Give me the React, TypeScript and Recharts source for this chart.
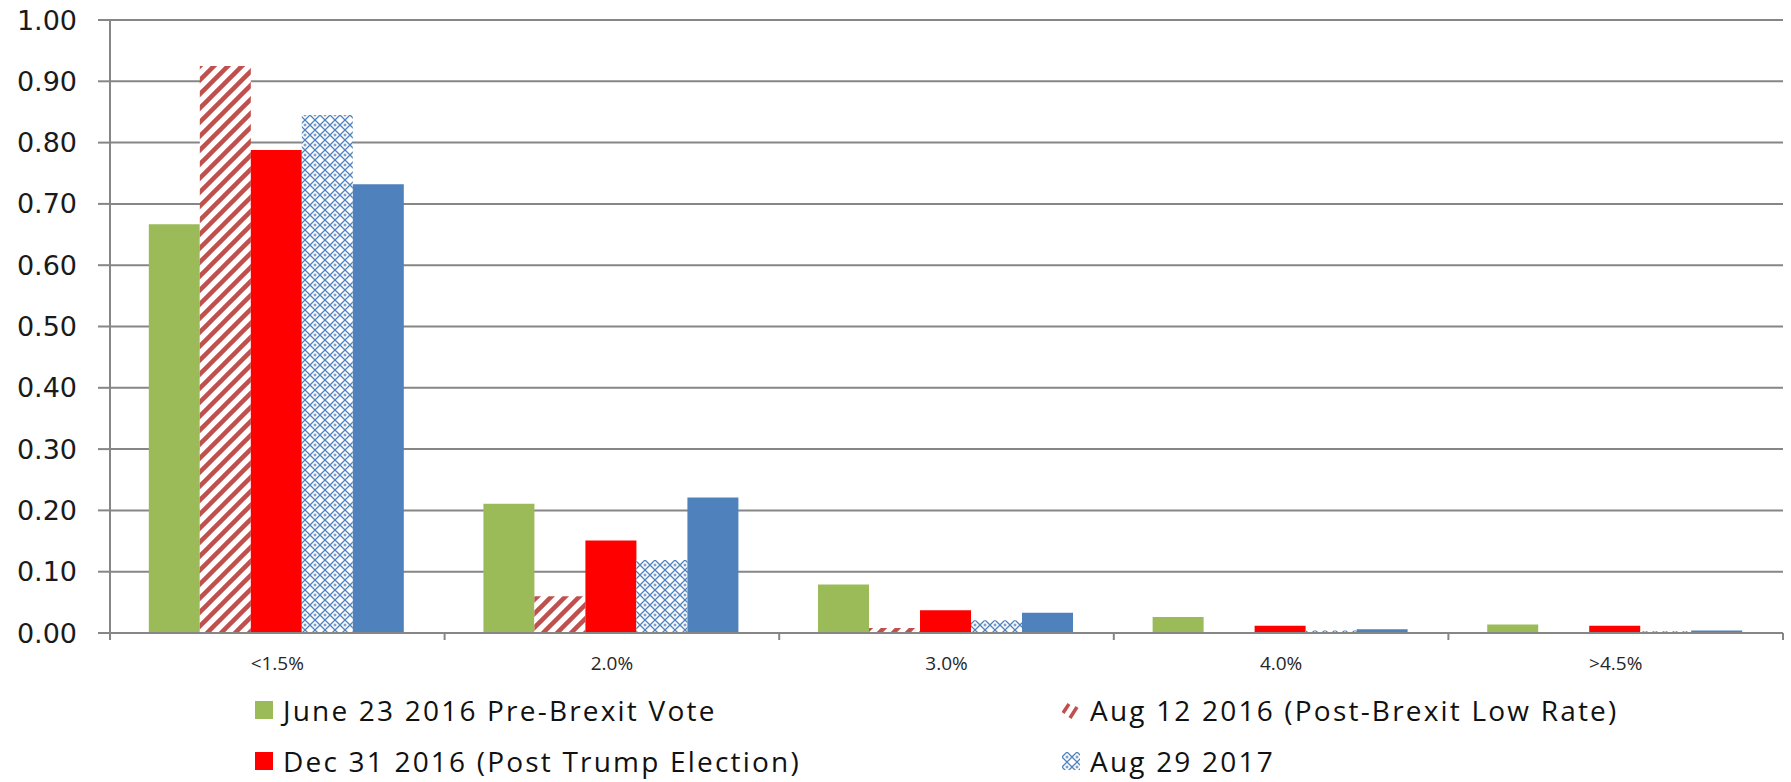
import { BarChart, Bar, XAxis, YAxis, CartesianGrid } from 'recharts'

const CATEGORIES = ['<1.5%', '2.0%', '3.0%', '4.0%', '>4.5%']
const JUNE_2016 = [0.667, 0.211, 0.079, 0.026, 0.014]
const AUG_2016 = [0.925, 0.06, 0.008, 0, 0]
const DEC_2016 = [0.788, 0.151, 0.037, 0.012, 0.012]
const AUG_2017 = [0.845, 0.119, 0.021, 0.004, 0.003]
const LATEST = [0.732, 0.221, 0.033, 0.006, 0.004]
const Y_TICKS = [0, 0.1, 0.2, 0.3, 0.4, 0.5, 0.6, 0.7, 0.8, 0.9, 1.0]

const SERIES = [
  { key: 'june2016', name: 'June 23 2016 Pre-Brexit Vote', values: JUNE_2016, fill: '#9BBB59', legend: true },
  { key: 'aug2016', name: 'Aug 12 2016 (Post-Brexit Low Rate)', values: AUG_2016, fill: 'url(#hatchRed)', legend: true },
  { key: 'dec2016', name: 'Dec 31 2016 (Post Trump Election)', values: DEC_2016, fill: '#FF0000', legend: true },
  { key: 'aug2017', name: 'Aug 29 2017', values: AUG_2017, fill: 'url(#weaveBlue)', legend: true },
  { key: 'latest', name: 'Latest', values: LATEST, fill: '#4F81BD', legend: false },
]

const data = CATEGORIES.map((c, i) => {
  const row: Record<string, string | number> = { cat: c }
  SERIES.forEach((s) => (row[s.key] = s.values[i]))
  return row
})

const W = 1791
const H = 782
const MARGIN = { top: 20, right: 8, left: 0, bottom: 0 }
const Y_WIDTH = 110
const GRID = '#868686'

const band = (W - MARGIN.right - MARGIN.left - Y_WIDTH) / CATEGORIES.length

function XTick(props: any) {
  const { x, y, payload, index } = props
  return (
    <g>
      <line x1={x - band / 2} x2={x - band / 2} y1={y} y2={y + 7} stroke={GRID} strokeWidth={2} />
      {index === CATEGORIES.length - 1 && (
        <line x1={x + band / 2} x2={x + band / 2} y1={y} y2={y + 7} stroke={GRID} strokeWidth={2} />
      )}
      <text x={x} y={y + 24} dy="0.71em" textAnchor="middle" fontFamily="'Open Sans'" fontSize={19} fill="#262626">
        {payload.value}
      </text>
    </g>
  )
}

function Patterns() {
  return (
    <svg width={0} height={0} style={{ position: 'absolute' }}>
      <defs>
        <pattern id="hatchRed" patternUnits="userSpaceOnUse" width={14} height={14}>
          <rect width={14} height={14} fill="#fff" />
          <path d="M-3,3 L3,-3 M0,14 L14,0 M11,17 L17,11" stroke="#C0504D" strokeWidth={4.5} />
        </pattern>
        <pattern id="weaveBlue" patternUnits="userSpaceOnUse" width={10} height={10}>
          <rect width={10} height={10} fill="#fff" />
          <path d="M5,0 L10,5 L5,10 L0,5 Z" stroke="#4F81BD" strokeWidth={1.3} fill="none" />
          <path d="M5,3.5 V6.5 M3.5,5 H6.5" stroke="#4F81BD" strokeWidth={1} />
        </pattern>
      </defs>
    </svg>
  )
}

function LegendIcon({ fill }: { fill: string }) {
  // hatched series shows as a pair of slashes, like the original legend
  if (fill === 'url(#hatchRed)') {
    return (
      <svg width={18} height={18} style={{ marginRight: 10, flex: 'none' }}>
        <path d="M1,12 L7,3 M8,17 L15,6" stroke="#C0504D" strokeWidth={3.5} />
      </svg>
    )
  }
  return (
    <svg width={18} height={18} style={{ marginRight: 10, flex: 'none' }}>
      <rect width={18} height={18} fill={fill} />
    </svg>
  )
}

function Legend() {
  const items = SERIES.filter((s) => s.legend)
  return (
    <div
      style={{
        position: 'absolute',
        left: 255,
        top: 684,
        display: 'grid',
        gridTemplateColumns: '807px 620px',
        gridAutoRows: '51px',
        fontFamily: "'Open Sans'",
        fontSize: 28,
        letterSpacing: 2.2,
        color: '#111',
      }}
    >
      {items.map((s) => (
        <div key={s.key} style={{ display: 'flex', alignItems: 'center', whiteSpace: 'nowrap' }}>
          <LegendIcon fill={s.fill} />
          <span>{s.name}</span>
        </div>
      ))}
    </div>
  )
}

export default function App() {
  return (
    <div style={{ position: 'absolute', left: 0, top: 0, width: W, height: H, background: '#fff' }}>
      <Patterns />
      <BarChart width={W} height={H} data={data} margin={MARGIN} barCategoryGap="11.6%" barGap={0}>
        <CartesianGrid vertical={false} stroke={GRID} strokeWidth={2} />
        <XAxis
          dataKey="cat"
          height={149}
          axisLine={{ stroke: GRID, strokeWidth: 2 }}
          tickLine={false}
          tickSize={0}
          tickMargin={0}
          tick={<XTick />}
          interval={0}
        />
        <YAxis
          width={Y_WIDTH}
          domain={[0, 1]}
          ticks={Y_TICKS}
          tickFormatter={(v: number) => v.toFixed(2)}
          axisLine={{ stroke: GRID, strokeWidth: 2 }}
          tickLine={{ stroke: GRID, strokeWidth: 2 }}
          tickSize={12}
          tickMargin={21}
          tick={{ fontFamily: 'DejaVu Sans', fontSize: 27, fill: '#1a1a1a' }}
        />
        {SERIES.map((s) => (
          <Bar key={s.key} dataKey={s.key} name={s.name} fill={s.fill} isAnimationActive={false} />
        ))}
      </BarChart>
      <Legend />
    </div>
  )
}
